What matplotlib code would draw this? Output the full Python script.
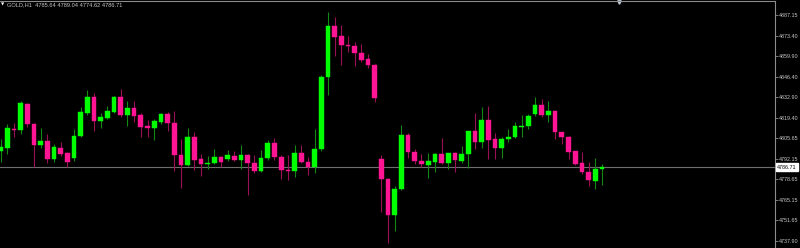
import numpy as np
import matplotlib
matplotlib.use('Agg')
import matplotlib.pyplot as plt
import matplotlib.transforms as mtransforms

plt.rcParams['font.family'] = ['Liberation Sans', 'DejaVu Sans']

symbol = 'GOLD,H1'

# OHLC of the H1 bars, oldest first
opens = [4797.58, 4799.36, 4812.10, 4811.04, 4828.40, 4815.40, 4801.14, 4803.98, 4792.10, 4799.36,
         4795.86, 4792.56, 4807.28, 4822.66, 4832.83, 4817.38, 4819.16, 4823.32, 4832.83, 4820.94,
         4825.76, 4820.94, 4813.68, 4812.56, 4816.72, 4822.00, 4816.06, 4794.54, 4788.34, 4806.82,
         4791.90, 4789.00, 4789.26, 4793.22, 4791.90, 4794.28, 4791.24, 4794.54, 4789.46, 4784.38,
         4792.76, 4802.66, 4793.62, 4785.04, 4784.18, 4795.86, 4790.12, 4787.02, 4798.70, 4846.03,
         4880.09, 4873.09, 4867.54, 4866.69, 4862.26, 4857.91, 4854.34, 4792.10, 4779.10, 4754.94,
         4772.10, 4807.74, 4796.92, 4790.78, 4788.34, 4790.32, 4795.20, 4789.26, 4795.86, 4790.78,
         4795.60, 4810.38, 4803.12, 4817.64, 4805.10, 4799.56, 4805.30, 4806.42, 4813.42, 4813.88,
         4821.60, 4827.54, 4821.34, 4823.58, 4809.92, 4806.82, 4797.18, 4789.26, 4783.72, 4777.78,
         4785.64]
highs = [4805.30, 4815.20, 4816.06, 4830.38, 4829.26, 4816.06, 4812.36, 4808.60, 4802.00, 4803.32,
         4796.92, 4811.70, 4826.22, 4837.64, 4835.86, 4822.26, 4827.08, 4833.68, 4838.11, 4830.38,
         4830.38, 4822.26, 4817.84, 4818.30, 4822.66, 4823.12, 4823.78, 4805.10, 4812.76, 4810.12,
         4795.40, 4794.08, 4798.50, 4794.08, 4798.04, 4797.58, 4801.14, 4795.40, 4794.54, 4798.04,
         4804.44, 4805.96, 4794.54, 4794.54, 4801.34, 4801.14, 4793.62, 4811.70, 4847.35, 4889.33,
         4885.63, 4880.55, 4873.09, 4869.33, 4867.81, 4861.21, 4854.60, 4794.54, 4779.50, 4774.08,
         4814.54, 4809.46, 4798.50, 4795.40, 4795.86, 4796.26, 4805.76, 4796.26, 4796.92, 4800.68,
         4810.78, 4822.26, 4826.22, 4827.28, 4809.46, 4806.82, 4811.90, 4816.52, 4821.14, 4821.80,
         4833.22, 4831.50, 4830.38, 4823.98, 4810.12, 4807.28, 4797.58, 4796.92, 4790.32, 4792.56,
         4789.04]
lows = [4790.12, 4795.40, 4806.82, 4808.60, 4813.02, 4786.62, 4799.16, 4789.66, 4789.92, 4794.08,
        4787.02, 4790.78, 4806.42, 4821.14, 4810.78, 4812.36, 4818.30, 4822.26, 4819.62, 4813.88,
        4816.72, 4806.42, 4806.42, 4804.64, 4815.20, 4810.78, 4784.38, 4773.16, 4787.48, 4784.84,
        4780.88, 4785.30, 4788.80, 4786.62, 4790.58, 4790.58, 4785.70, 4768.34, 4782.66, 4783.72,
        4791.44, 4791.44, 4778.70, 4778.24, 4780.42, 4789.26, 4781.74, 4783.06, 4797.58, 4834.34,
        4860.09, 4854.15, 4862.92, 4853.49, 4855.93, 4851.97, 4829.52, 4757.31, 4736.85, 4744.57,
        4771.64, 4792.96, 4788.80, 4787.02, 4779.36, 4783.52, 4788.80, 4785.50, 4783.32, 4789.66,
        4785.96, 4798.70, 4799.16, 4792.10, 4792.10, 4792.56, 4803.52, 4805.76, 4806.82, 4811.90,
        4820.48, 4819.62, 4816.72, 4805.30, 4802.00, 4792.10, 4788.34, 4782.00, 4774.28, 4772.30,
        4774.62]
closes = [4800.22, 4812.56, 4811.24, 4828.86, 4815.20, 4801.14, 4803.98, 4791.90, 4799.82, 4795.40,
          4790.32, 4807.48, 4823.12, 4832.83, 4817.38, 4819.62, 4823.78, 4832.83, 4820.94, 4825.76,
          4820.68, 4813.42, 4812.36, 4816.98, 4821.80, 4816.06, 4794.54, 4788.34, 4806.82, 4791.64,
          4789.00, 4789.46, 4793.42, 4790.32, 4794.94, 4791.24, 4794.74, 4789.26, 4784.38, 4792.76,
          4802.66, 4793.62, 4784.64, 4784.18, 4795.86, 4790.12, 4787.02, 4798.70, 4846.03, 4880.09,
          4872.83, 4867.15, 4866.49, 4862.26, 4857.64, 4853.95, 4832.56, 4778.90, 4754.94, 4772.30,
          4807.74, 4796.92, 4790.58, 4788.80, 4790.78, 4795.20, 4789.26, 4795.86, 4791.24, 4795.60,
          4810.38, 4803.12, 4817.64, 4804.64, 4799.56, 4805.30, 4806.62, 4813.68, 4814.08, 4820.48,
          4827.54, 4821.34, 4823.78, 4809.72, 4806.42, 4796.72, 4788.80, 4783.72, 4778.24, 4785.70,
          4786.71]

price_ticks = [4887.15, 4873.40, 4859.90, 4846.40, 4832.90, 4819.40,
               4805.65, 4792.15, 4778.65, 4765.15, 4751.65, 4737.90]
bid = closes[-1]

o = np.array(opens)
h = np.array(highs)
l = np.array(lows)
c = np.array(closes)
x = np.arange(len(o))
up = c >= o

bull = '#00ff00'
bear = '#ff1493'

fig = plt.figure(figsize=(8, 2.48), dpi=100, facecolor='black')
ax = fig.add_axes([0, 0, 775 / 800, 247 / 248])
ax.set_facecolor('black')

# wicks
ax.vlines(x[up], l[up], h[up], color='#128a12', lw=0.8, zorder=1)
ax.vlines(x[~up], l[~up], h[~up], color='#9a1055', lw=0.8, zorder=1)

# bodies
colors = np.where(up, bull, bear)
bottoms = np.minimum(o, c)
heights = np.maximum(np.abs(c - o), 0.6)
ax.bar(x, heights, bottom=bottoms, width=0.7, color=colors, edgecolor=colors, lw=0.3, zorder=2)

# bid line
ax.axhline(bid, color='#6e6e6e', lw=0.8, zorder=0)

ax.set_xlim(-0.075, 115.9)
ax.set_ylim(4733.35, 4896.39)

ax.set_xticks([])
ax.yaxis.tick_right()
ax.set_yticks(price_ticks)
ax.set_yticklabels(['%.2f' % p for p in price_ticks])
ax.tick_params(axis='y', colors='#8c8c8c', labelcolor='#c8c8c8', labelsize=3.9, length=2, width=0.6, pad=1)

for side in ['left', 'bottom']:
    ax.spines[side].set_visible(False)
for side in ['top', 'right']:
    ax.spines[side].set_color('#8c8c8c')
    ax.spines[side].set_linewidth(0.8)

# current price box on the scale
trans = mtransforms.blended_transform_factory(ax.transAxes, ax.transData)
ax.text(1.003, bid, '%.2f' % bid, transform=trans, ha='left', va='center', fontsize=3.9,
        color='black', bbox=dict(boxstyle='square,pad=0.25', fc='white', ec='white'), clip_on=False)

# chart shift marker
ax.plot([92.6], [0.995], marker='v', ms=2.5, color='#c0c8d8', transform=ax.get_xaxis_transform(),
        clip_on=False)

# header
fig.text(3 / 800, 1 - 4 / 248, '\u25bc', fontsize=3, color='white', ha='center', va='center',
         family='DejaVu Sans')
header = '%s  %.2f %.2f %.2f %.2f' % (symbol, opens[-1], highs[-1], lows[-1], closes[-1])
fig.text(7 / 800, 1 - 4.5 / 248, header, fontsize=4.1, color='#c8c8c8', ha='left', va='center')

fig.savefig('out.png', dpi=100, facecolor='black')
